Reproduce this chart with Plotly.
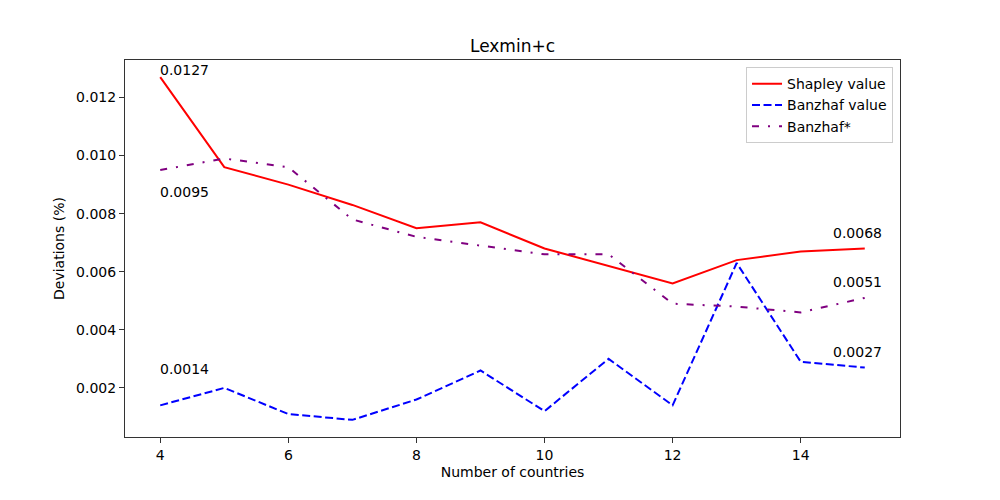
import plotly.graph_objects as go

countries = [4, 5, 6, 7, 8, 9, 10, 11, 12, 13, 14, 15]
shapley = [0.0127, 0.0096, 0.0090, 0.0083, 0.0075, 0.0077, 0.0068, 0.0062, 0.0056, 0.0064, 0.0067, 0.0068]
banzhaf = [0.0014, 0.0020, 0.0011, 0.0009, 0.0016, 0.0026, 0.0012, 0.0030, 0.0014, 0.0063, 0.0029, 0.0027]
banzhaf_star = [0.0095, 0.0099, 0.0096, 0.0078, 0.0072, 0.0069, 0.0066, 0.0066, 0.0049, 0.0048, 0.0046, 0.0051]

# annotations: (x, y, text)
ann_x = [4, 4, 4, 14.5, 14.5, 14.5]
ann_y = [0.0127, 0.0085, 0.0024, 0.0071, 0.0054, 0.0030]
ann_text = ["0.0127", "0.0095", "0.0014", "0.0068", "0.0051", "0.0027"]

FONT = "DejaVu Sans"

fig = go.Figure()
fig.add_trace(go.Scatter(x=countries, y=shapley, mode="lines", name="Shapley value",
                         line=dict(color="red", width=2)))
fig.add_trace(go.Scatter(x=countries, y=banzhaf, mode="lines", name="Banzhaf value",
                         line=dict(color="blue", width=2, dash="8px,3.5px")))
fig.add_trace(go.Scatter(x=countries, y=banzhaf_star, mode="lines", name="Banzhaf*",
                         line=dict(color="purple", width=2, dash="7px,9px,2px,9px")))

for x, y, t in zip(ann_x, ann_y, ann_text):
    fig.add_annotation(x=x, y=y, text=t, showarrow=False, xanchor="left", yanchor="bottom",
                       xshift=-2, yshift=-3, font=dict(family=FONT, size=14, color="black"))

axis_common = dict(showgrid=False, zeroline=False, showline=True, linecolor="#333", linewidth=1,
                   mirror=True, ticks="outside", ticklen=5, tickcolor="#333",
                   tickfont=dict(family=FONT, size=14, color="black"))

fig.update_layout(
    width=1000, height=500,
    margin=dict(l=117, r=108, t=52, b=71),
    paper_bgcolor="white", plot_bgcolor="white",
    title=dict(text="Lexmin+c", x=0.5, xref="paper", xanchor="center", y=0.924, yanchor="middle",
               font=dict(family=FONT, size=17, color="black")),
    font=dict(family=FONT, color="black"),
    xaxis=dict(range=[3.45, 15.55], tickvals=[4, 6, 8, 10, 12, 14],
               title=dict(text="Number of countries", font=dict(family=FONT, size=14), standoff=5),
               **axis_common),
    yaxis=dict(range=[0.00031, 0.01329], tickvals=[0.002, 0.004, 0.006, 0.008, 0.010, 0.012],
               tickformat=".3f",
               title=dict(text="Deviations (%)", font=dict(family=FONT, size=14), standoff=8),
               **axis_common),
    legend=dict(x=0.991, xanchor="right", y=0.981, yanchor="top",
                bgcolor="rgba(255,255,255,0.8)", bordercolor="#cccccc", borderwidth=1,
                font=dict(family=FONT, size=14, color="black"), tracegroupgap=0),
    showlegend=True,
)

fig.write_html("out.html")
